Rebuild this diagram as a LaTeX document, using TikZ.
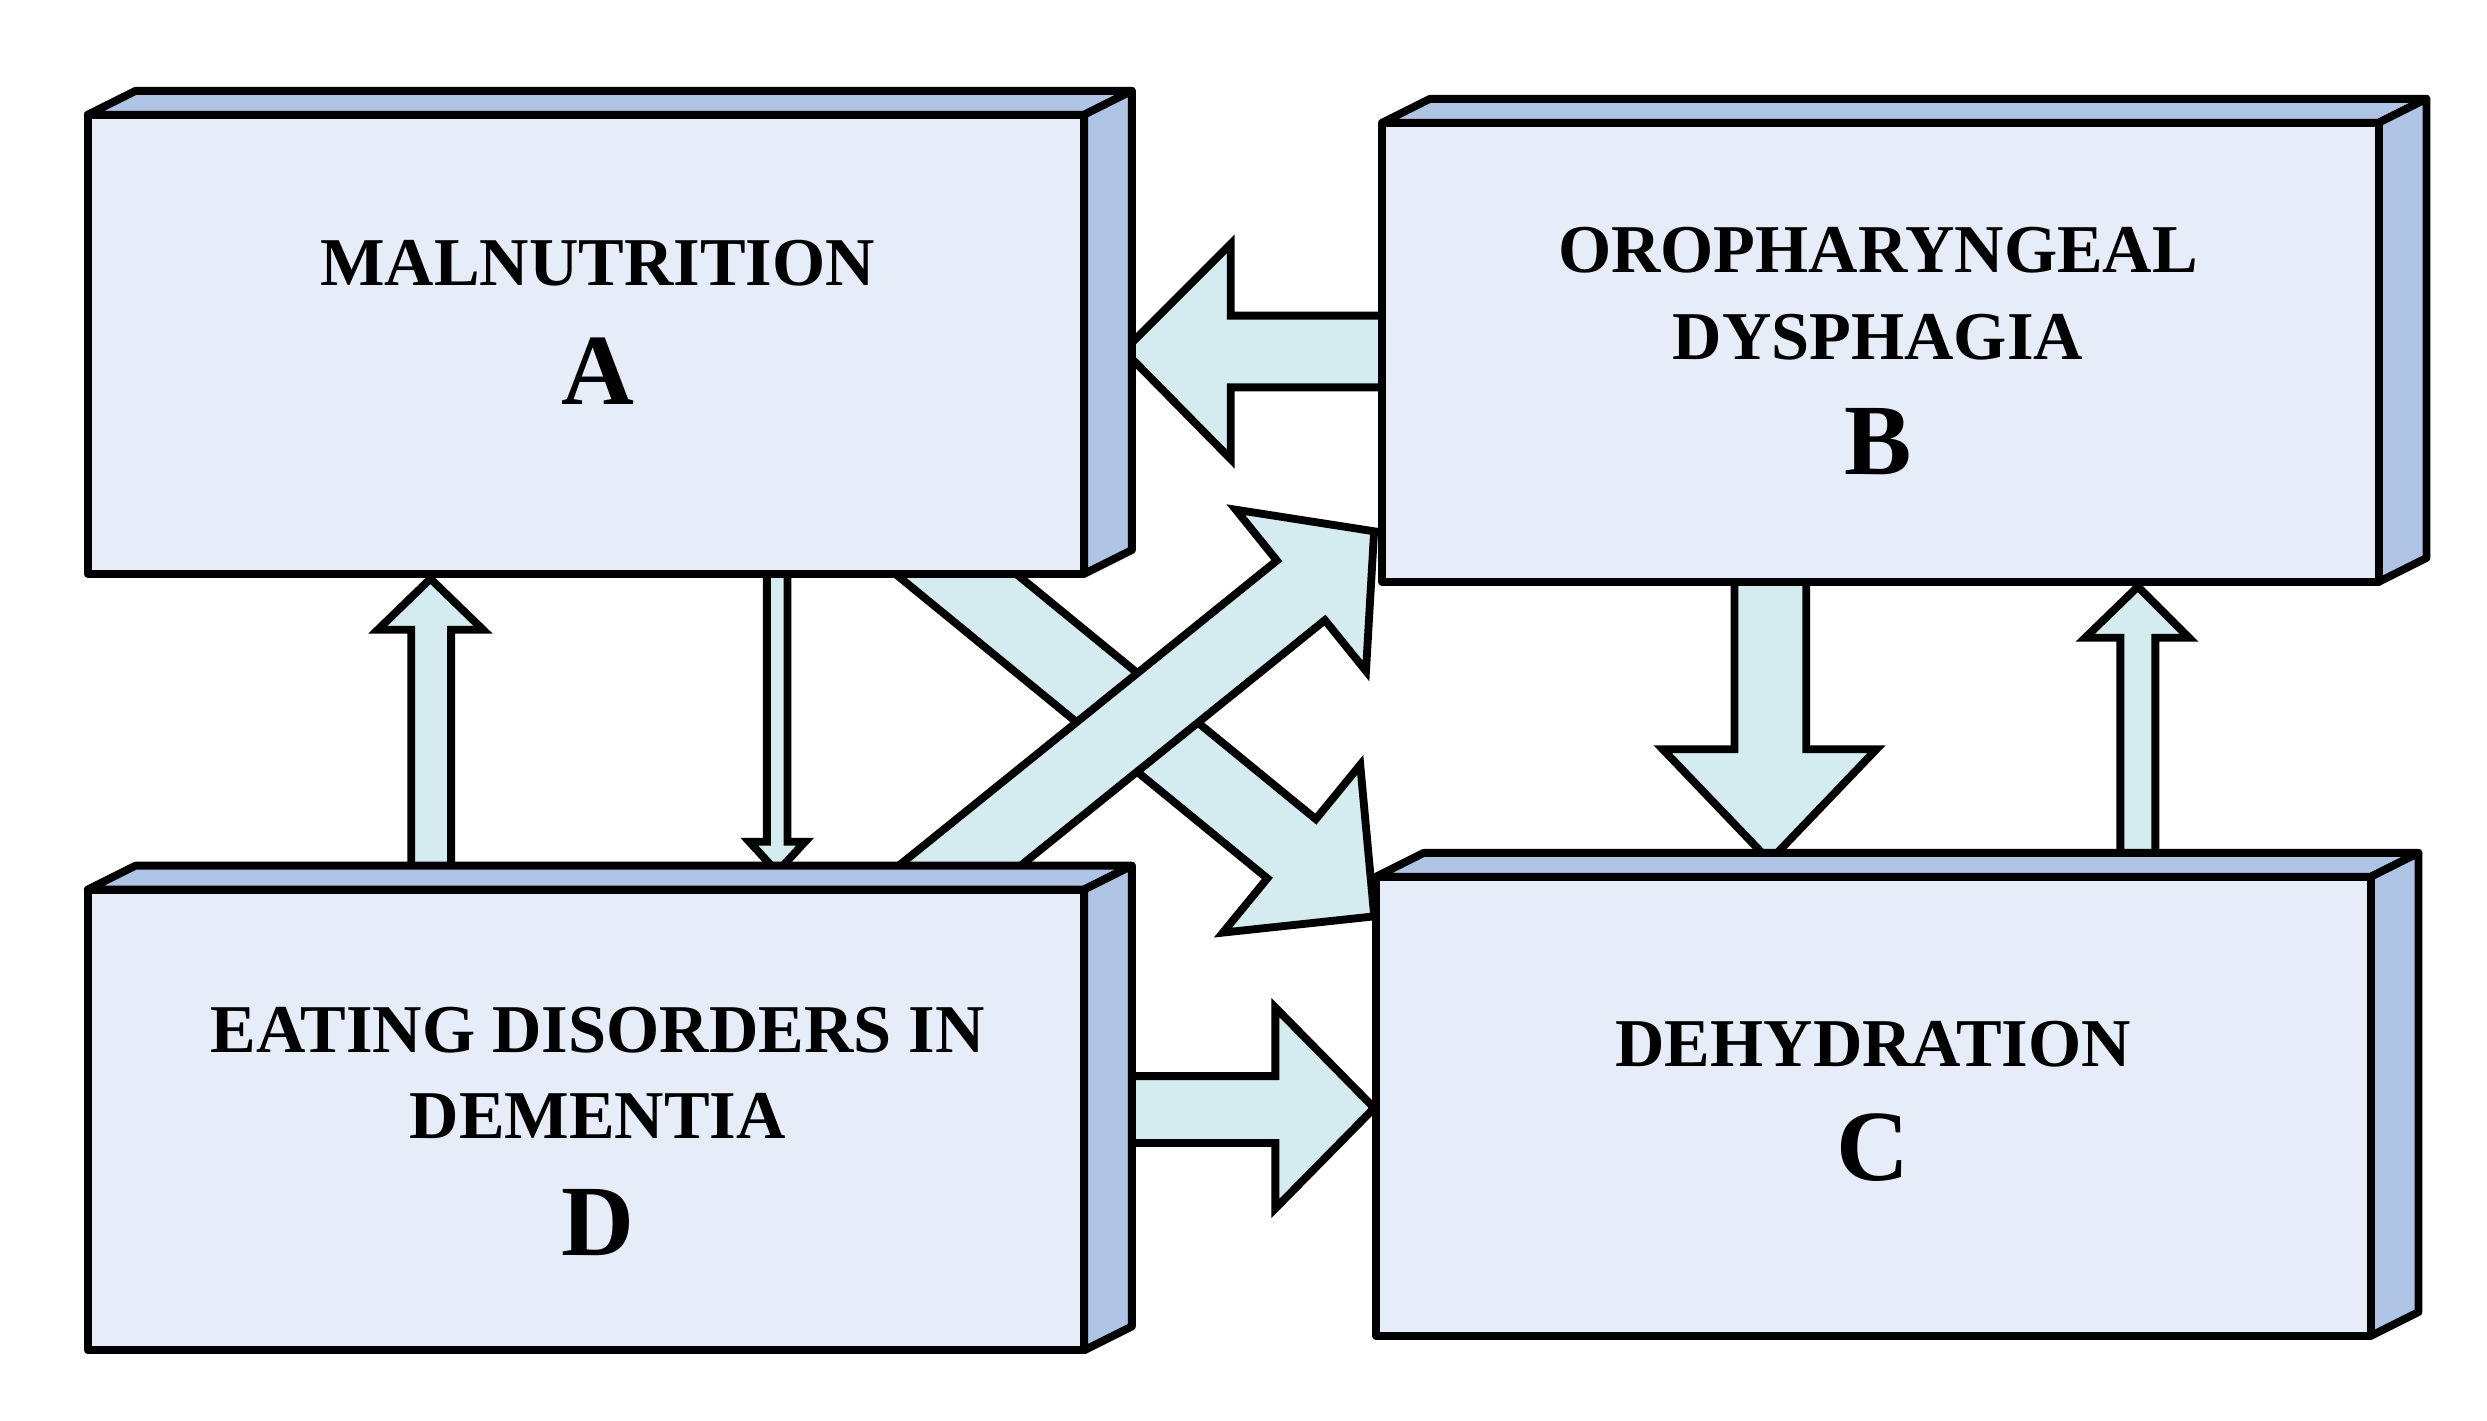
\documentclass[tikz,border=0pt]{standalone}
\usepackage{fontspec}
\setmainfont{Liberation Serif}
\begin{document}
\begin{tikzpicture}[x=0.01cm,y=-0.01cm,
  face/.style={draw=black,line width=1.4pt,fill=front,line join=round},
  side/.style={draw=black,line width=1.4pt,fill=sidec,line join=round},
  arr/.style={draw=black,line width=1.4pt,fill=arrc,line join=miter},
  lbl/.style={font=\bfseries\fontsize{12.2}{14.5}\selectfont,align=center},
  big/.style={font=\bfseries\fontsize{18}{20}\selectfont}]
\definecolor{front}{HTML}{E6ECF8}
\definecolor{sidec}{HTML}{AFC3E5}
\definecolor{arrc}{HTML}{D4EBF0}
\useasboundingbox (0,0) rectangle (1560,891);
% arrows
\draw[arr] (880,198) -- (772,198) -- (772,153) -- (705,220) -- (772,288) -- (772,243) -- (880,243) -- cycle;
\draw[arr] (258,560) -- (258,395) -- (237,395) -- (270,363) -- (303,395) -- (283,395) -- (283,560) -- cycle;
\draw[arr] (481,350) -- (481,528) -- (470,528) -- (487.5,547) -- (505,528) -- (494,528) -- (494,350) -- cycle;
\begin{scope}[shift={(602,362)},rotate=-39.3]
\draw[arr] (-30,24) -- (269,24) -- (269,68) -- (336,0) -- (269,-68) -- (269,-24) -- (-30,-24) -- cycle;
\end{scope}
\begin{scope}[shift={(602,543)},rotate=38.9]
\draw[arr] (-30,24) -- (275,24) -- (275,65) -- (334,0) -- (275,-65) -- (275,-24) -- (-30,-24) -- cycle;
\end{scope}
\draw[arr] (1088,355) -- (1088,470) -- (1043,470) -- (1110,540) -- (1177,470) -- (1133,470) -- (1133,355) -- cycle;
\draw[arr] (1330,555) -- (1330,400) -- (1308,400) -- (1341,368) -- (1373,400) -- (1352,400) -- (1352,555) -- cycle;
\draw[arr] (695,675) -- (800,675) -- (800,632) -- (862,695) -- (800,758) -- (800,717) -- (695,717) -- cycle;
% boxes
\foreach \x/\y/\w/\h/\n in {55/72/625/288/A,867/77/625/288/B,55/558/625/289/D,863/550/624/288/C}{
  \draw[side] (\x,\y) -- ++(30,-15) -- ++(\w,0) -- ++(-30,15) -- cycle;
  \draw[side] (\x+\w,\y) -- ++(30,-15) -- ++(0,\h) -- ++(-30,15) -- cycle;
  \draw[face] (\x,\y) rectangle ++(\w,\h);
  \coordinate (\n) at (\x+\w/2,\y);
}
\node[lbl] (ta) at (375,165) {MALNUTRITION};
\node[big] (la) at (375,233) {A};
\node[lbl] (tb) at (1178,184) {OROPHARYNGEAL\\[1pt]DYSPHAGIA};
\node[big] (lb) at (1178,277) {B};
\node[lbl] (td) at (375,673) {EATING DISORDERS IN\\[1pt]DEMENTIA};
\node[big] (ld) at (375,767) {D};
\node[lbl] (tc) at (1175,655) {DEHYDRATION};
\node[big] (lc) at (1175,720) {C};
\end{tikzpicture}
\end{document}
